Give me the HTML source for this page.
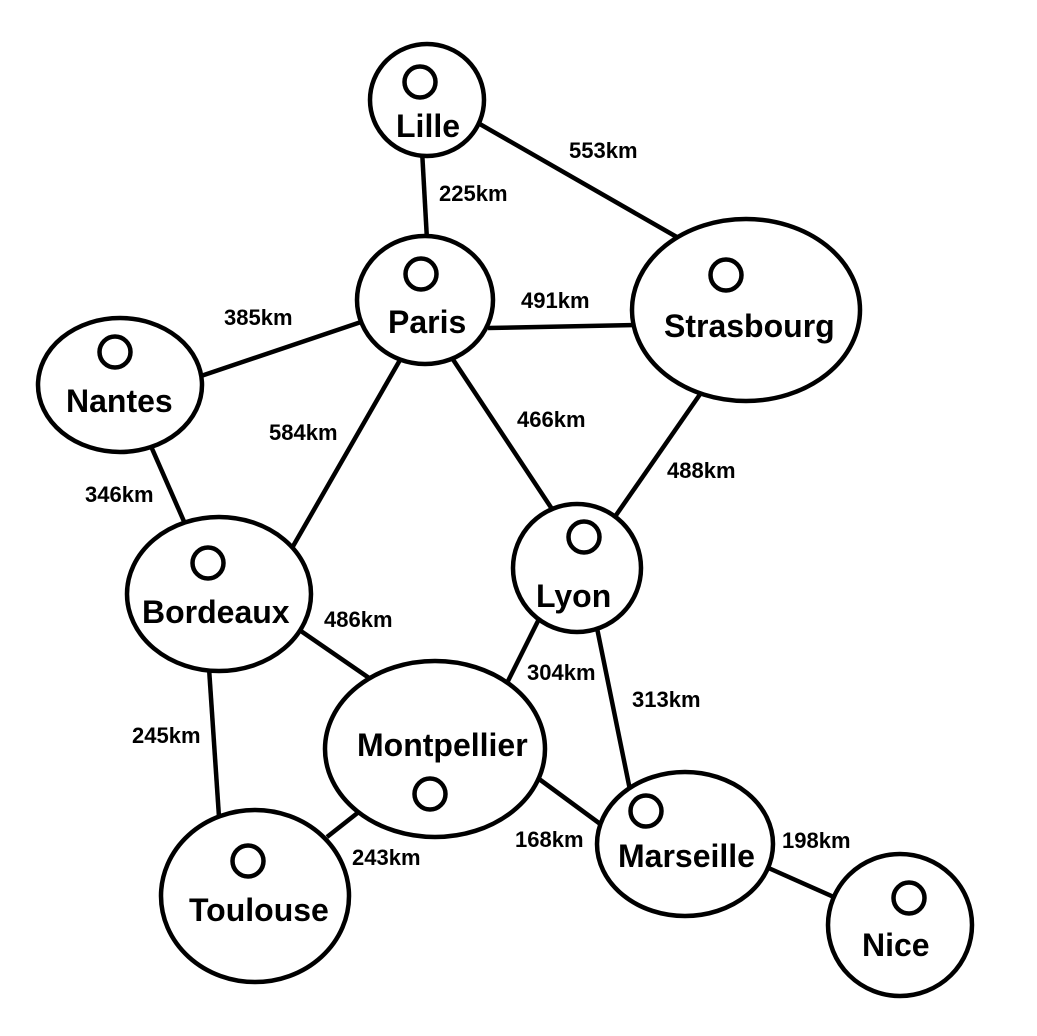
<!DOCTYPE html>
<html>
<head>
<meta charset="utf-8">
<style>
html,body{margin:0;padding:0;background:#fff;}
svg{display:block;}
text{font-family:"Liberation Sans",Arial,sans-serif;font-weight:bold;fill:#000;}
.n{font-size:32px;}
.l{font-size:22px;}
</style>
</head>
<body>
<svg width="1037" height="1036" viewBox="0 0 1037 1036" xmlns="http://www.w3.org/2000/svg">
<rect width="1037" height="1036" fill="#fff"/>
<g stroke="#000" stroke-width="4.5" fill="none" stroke-linecap="butt">
  <!-- edges -->
  <line x1="422" y1="150" x2="427" y2="240"/>
  <line x1="478" y1="123" x2="682" y2="240"/>
  <line x1="488" y1="328" x2="636" y2="325"/>
  <line x1="198" y1="377" x2="364" y2="321"/>
  <line x1="150" y1="444" x2="186" y2="526"/>
  <line x1="400" y1="360" x2="292" y2="548"/>
  <line x1="452" y1="358" x2="554" y2="512"/>
  <line x1="703" y1="390" x2="612" y2="521"/>
  <line x1="298" y1="629" x2="372" y2="680"/>
  <line x1="209" y1="668" x2="219" y2="817"/>
  <line x1="540" y1="617" x2="505" y2="687"/>
  <line x1="597" y1="628" x2="630" y2="790"/>
  <line x1="535" y1="776" x2="603" y2="826"/>
  <line x1="327" y1="837" x2="360" y2="811"/>
  <line x1="764" y1="866" x2="836" y2="898"/>
</g>
<g stroke="#000" stroke-width="4.5" fill="#fff">
  <!-- nodes -->
  <ellipse cx="427" cy="100" rx="57" ry="56"/>
  <ellipse cx="425" cy="300" rx="68" ry="64"/>
  <ellipse cx="746" cy="310" rx="114" ry="91"/>
  <ellipse cx="120" cy="385" rx="82" ry="67"/>
  <ellipse cx="219" cy="594" rx="92" ry="77"/>
  <ellipse cx="577" cy="568" rx="64" ry="64"/>
  <ellipse cx="435" cy="749" rx="110" ry="88"/>
  <ellipse cx="255" cy="896" rx="94" ry="86"/>
  <ellipse cx="685" cy="844" rx="88" ry="72"/>
  <ellipse cx="900" cy="925" rx="72" ry="71"/>
  <!-- small circles -->
  <circle cx="420" cy="82" r="15.5"/>
  <circle cx="421" cy="274" r="15.5"/>
  <circle cx="726" cy="275" r="15.5"/>
  <circle cx="115" cy="352" r="15.5"/>
  <circle cx="208" cy="563" r="15.5"/>
  <circle cx="584" cy="537" r="15.5"/>
  <circle cx="430" cy="794" r="15.5"/>
  <circle cx="248" cy="861" r="15.5"/>
  <circle cx="646" cy="811" r="15.5"/>
  <circle cx="909" cy="898" r="15.5"/>
</g>
<!-- node labels -->
<text class="n" x="396" y="137">Lille</text>
<text class="n" x="388" y="333">Paris</text>
<text class="n" x="664" y="337">Strasbourg</text>
<text class="n" x="66" y="412">Nantes</text>
<text class="n" x="142" y="623">Bordeaux</text>
<text class="n" x="536" y="607">Lyon</text>
<text class="n" x="357" y="756">Montpellier</text>
<text class="n" x="189" y="921">Toulouse</text>
<text class="n" x="618" y="867">Marseille</text>
<text class="n" x="862" y="956">Nice</text>
<!-- edge labels -->
<text class="l" x="569" y="158">553km</text>
<text class="l" x="439" y="201">225km</text>
<text class="l" x="521" y="308">491km</text>
<text class="l" x="224" y="325">385km</text>
<text class="l" x="269" y="440">584km</text>
<text class="l" x="517" y="427">466km</text>
<text class="l" x="667" y="478">488km</text>
<text class="l" x="85" y="502">346km</text>
<text class="l" x="324" y="627">486km</text>
<text class="l" x="527" y="680">304km</text>
<text class="l" x="632" y="707">313km</text>
<text class="l" x="132" y="743">245km</text>
<text class="l" x="515" y="847">168km</text>
<text class="l" x="782" y="848">198km</text>
<text class="l" x="352" y="865">243km</text>
</svg>
</body>
</html>
